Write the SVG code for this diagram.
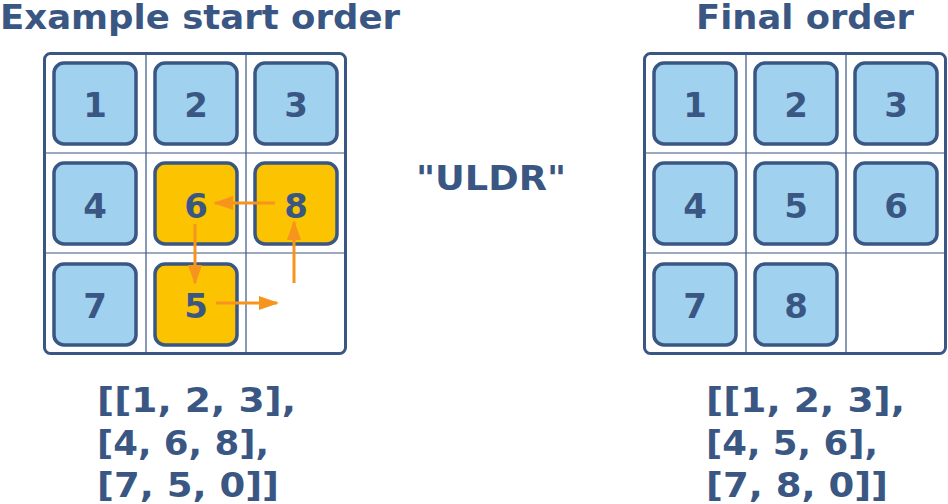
<svg xmlns="http://www.w3.org/2000/svg" width="948" height="504" viewBox="0 0 948 504">
<style>
text{font-family:"DejaVu Sans",Verdana,sans-serif;font-weight:bold;fill:#3a5784}
.t{font-size:33px}
.n{font-size:34px;text-anchor:middle}
.b{fill:#fff;stroke:#3a5784;stroke-width:3}
.g{stroke:#3a5784;stroke-width:1.2}
.tb{fill:#a0d2f0;stroke:#3a5784;stroke-width:3.5}
.ty{fill:#fcc300;stroke:#3a5784;stroke-width:3.5}
.a{stroke:#f7941e;stroke-width:3;fill:none}
</style>
<defs><marker id="ah2" viewBox="0 0 10 10" refX="9" refY="5" markerWidth="20" markerHeight="14" orient="auto" markerUnits="userSpaceOnUse" preserveAspectRatio="none"><path d="M0,0L10,5L0,10z" fill="#f7941e"/></marker></defs>
<text class="t" x="0" y="29" textLength="400" lengthAdjust="spacingAndGlyphs">Example start order</text>
<text class="t" x="696" y="29" textLength="218" lengthAdjust="spacingAndGlyphs">Final order</text>
<text class="t" x="416" y="190" textLength="150" lengthAdjust="spacingAndGlyphs">"ULDR"</text>
<g id="left">
<rect class="b" x="44.5" y="53.5" width="301" height="300" rx="6"/>
<path class="g" d="M146 55V352M246 55V352M46 153H344M46 253H344"/>
<g id="l1"><rect class="tb" x="54" y="63" width="82" height="81" rx="10"/><text class="n" x="95" y="117">1</text></g>
<g id="l2"><rect class="tb" x="155" y="63" width="82" height="81" rx="10"/><text class="n" x="196" y="117">2</text></g>
<g id="l3"><rect class="tb" x="255" y="63" width="82" height="81" rx="10"/><text class="n" x="296" y="117">3</text></g>
<g id="l4"><rect class="tb" x="54" y="163" width="82" height="81" rx="10"/><text class="n" x="95" y="218">4</text></g>
<g id="l6"><rect class="ty" x="155" y="163" width="82" height="81" rx="10"/><text class="n" x="196" y="218">6</text></g>
<g id="l8"><rect class="ty" x="255" y="163" width="82" height="81" rx="10"/><text class="n" x="296" y="218">8</text></g>
<g id="l7"><rect class="tb" x="54" y="264" width="82" height="81" rx="10"/><text class="n" x="95" y="318">7</text></g>
<g id="l5"><rect class="ty" x="155" y="264" width="82" height="81" rx="10"/><text class="n" x="196" y="318">5</text></g>
</g>
<g id="connectors">
<path class="a" marker-end="url(#ah2)" d="M275 203H215"/>
<path class="a" marker-end="url(#ah2)" d="M195 224V283"/>
<path class="a" marker-end="url(#ah2)" d="M216 303H277"/>
<path class="a" marker-end="url(#ah2)" d="M294 283V222"/>
</g>
<g id="right">
<rect class="b" x="644.5" y="53.5" width="301" height="300" rx="6"/>
<path class="g" d="M746 55V352M846 55V352M646 153H944M646 253H944"/>
<g id="r1"><rect class="tb" x="654" y="63" width="82" height="81" rx="10"/><text class="n" x="695" y="117">1</text></g>
<g id="r2"><rect class="tb" x="755" y="63" width="82" height="81" rx="10"/><text class="n" x="796" y="117">2</text></g>
<g id="r3"><rect class="tb" x="855" y="63" width="82" height="81" rx="10"/><text class="n" x="896" y="117">3</text></g>
<g id="r4"><rect class="tb" x="654" y="163" width="82" height="81" rx="10"/><text class="n" x="695" y="218">4</text></g>
<g id="r5"><rect class="tb" x="755" y="163" width="82" height="81" rx="10"/><text class="n" x="796" y="218">5</text></g>
<g id="r6"><rect class="tb" x="855" y="163" width="82" height="81" rx="10"/><text class="n" x="896" y="218">6</text></g>
<g id="r7"><rect class="tb" x="654" y="264" width="82" height="81" rx="10"/><text class="n" x="695" y="318">7</text></g>
<g id="r8"><rect class="tb" x="755" y="264" width="82" height="81" rx="10"/><text class="n" x="796" y="318">8</text></g>
</g>
<text class="t" x="97" y="412" textLength="199" lengthAdjust="spacingAndGlyphs">[[1, 2, 3],</text>
<text class="t" x="97" y="455" textLength="172" lengthAdjust="spacingAndGlyphs">[4, 6, 8],</text>
<text class="t" x="97" y="497" textLength="182" lengthAdjust="spacingAndGlyphs">[7, 5, 0]]</text>
<text class="t" x="706" y="412" textLength="199" lengthAdjust="spacingAndGlyphs">[[1, 2, 3],</text>
<text class="t" x="706" y="455" textLength="172" lengthAdjust="spacingAndGlyphs">[4, 5, 6],</text>
<text class="t" x="706" y="497" textLength="182" lengthAdjust="spacingAndGlyphs">[7, 8, 0]]</text>
</svg>
